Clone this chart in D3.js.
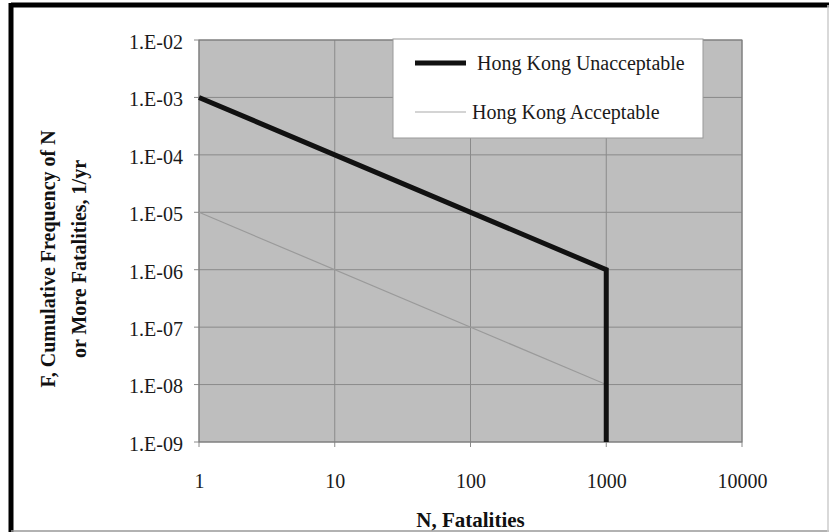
<!DOCTYPE html>
<html>
<head>
<meta charset="utf-8">
<script src="https://cdn.jsdelivr.net/npm/d3@7"></script>
<style>
  body { margin: 0; background: #fff; }
  svg { display: block; font-family: "Liberation Serif", "Times New Roman", serif; }
</style>
</head>
<body>
<svg width="829" height="532"></svg>
<script>
const svg = d3.select("svg");

// datos
const xTicks = [1, 10, 100, 1000, 10000];
const xTickLabels = ["1", "10", "100", "1000", "10000"];
const yTicks = [1e-9, 1e-8, 1e-7, 1e-6, 1e-5, 1e-4, 1e-3, 1e-2];
const yTickLabels = ["1.E-09", "1.E-08", "1.E-07", "1.E-06", "1.E-05", "1.E-04", "1.E-03", "1.E-02"];

const unacceptN = [1, 1000, 1000];
const unacceptF = [1e-3, 1e-6, 1e-9];
const acceptN = [1, 1000, 1000];
const acceptF = [1e-5, 1e-8, 1e-9];

const seriesNames = ["Hong Kong Unacceptable", "Hong Kong Acceptable"];

// area de la grafica
const plotLeft = 199, plotRight = 742, plotTop = 40, plotBottom = 442;

const xScale = d3.scaleLog().domain([1, 10000]).range([plotLeft, plotRight]);
const yScale = d3.scaleLog().domain([1e-9, 1e-2]).range([plotBottom, plotTop]);

// marco exterior
svg.append("line").attr("x1", 11).attr("y1", 5).attr("x2", 829).attr("y2", 5)
    .attr("stroke", "#000").attr("stroke-width", 5);
svg.append("line").attr("x1", 11).attr("y1", 3).attr("x2", 11).attr("y2", 532)
    .attr("stroke", "#000").attr("stroke-width", 5);
svg.append("line").attr("x1", 11).attr("y1", 531).attr("x2", 829).attr("y2", 531)
    .attr("stroke", "#999").attr("stroke-width", 1.5);
svg.append("line").attr("x1", 828).attr("y1", 5).attr("x2", 828).attr("y2", 532)
    .attr("stroke", "#ccc").attr("stroke-width", 1.5);

// fondo gris
svg.append("rect")
    .attr("x", plotLeft).attr("y", plotTop)
    .attr("width", plotRight - plotLeft).attr("height", plotBottom - plotTop)
    .attr("fill", "#bebebe");

// lineas de cuadricula
svg.selectAll(".hgrid").data(yTicks).enter().append("line")
    .attr("x1", plotLeft - 5).attr("x2", plotRight)
    .attr("y1", d => yScale(d)).attr("y2", d => yScale(d))
    .attr("stroke", "#8a8a8a").attr("stroke-width", 1);

svg.selectAll(".vgrid").data(xTicks).enter().append("line")
    .attr("x1", d => xScale(d)).attr("x2", d => xScale(d))
    .attr("y1", plotTop).attr("y2", plotBottom + 5)
    .attr("stroke", "#8a8a8a").attr("stroke-width", 1);

svg.append("rect")
    .attr("x", plotLeft).attr("y", plotTop)
    .attr("width", plotRight - plotLeft).attr("height", plotBottom - plotTop)
    .attr("fill", "none").attr("stroke", "#7a7a7a").attr("stroke-width", 1);

// ejes
const yAxis = d3.axisLeft(yScale).tickValues(yTicks)
    .tickFormat((d, i) => yTickLabels[i]).tickSize(0).tickPadding(16);
const gy = svg.append("g").attr("transform", `translate(${plotLeft},0)`).call(yAxis);
gy.select(".domain").remove();
gy.selectAll("text").attr("font-size", "20px").attr("fill", "#1a1a1a")
    .attr("font-family", "'Liberation Serif', 'Times New Roman', serif")
    .attr("dy", "0.42em");

const xAxis = d3.axisBottom(xScale).tickValues(xTicks)
    .tickFormat((d, i) => xTickLabels[i]).tickSize(0).tickPadding(32);
const gx = svg.append("g").attr("transform", `translate(0,${plotBottom})`).call(xAxis);
gx.select(".domain").remove();
gx.selectAll("text").attr("font-size", "20px").attr("fill", "#1a1a1a")
    .attr("font-family", "'Liberation Serif', 'Times New Roman', serif");

// titulos de ejes
svg.append("text")
    .attr("x", (plotLeft + plotRight) / 2).attr("y", 527)
    .attr("text-anchor", "middle")
    .attr("font-size", "21px").attr("font-weight", "bold").attr("fill", "#111")
    .text("N, Fatalities");

const yTitle = svg.append("text")
    .attr("transform", "translate(0,259) rotate(-90)")
    .attr("text-anchor", "middle")
    .attr("font-size", "20px").attr("font-weight", "bold").attr("fill", "#111");
yTitle.append("tspan").attr("x", 0).attr("y", 55).text("F, Cumulative Frequency of N");
yTitle.append("tspan").attr("x", 0).attr("y", 86).text("or More Fatalities, 1/yr");

// series
const line = d3.line().x(d => xScale(d[0])).y(d => yScale(d[1]));

svg.append("path")
    .datum(acceptN.map((n, i) => [n, acceptF[i]]))
    .attr("d", line)
    .attr("fill", "none").attr("stroke", "#9a9a9a").attr("stroke-width", 1.2);

svg.append("path")
    .datum(unacceptN.map((n, i) => [n, unacceptF[i]]))
    .attr("d", line)
    .attr("fill", "none").attr("stroke", "#111").attr("stroke-width", 5)
    .attr("stroke-linejoin", "miter");

// leyenda
svg.append("rect")
    .attr("x", 393).attr("y", 39).attr("width", 310).attr("height", 99)
    .attr("fill", "#fff").attr("stroke", "#999").attr("stroke-width", 1);

const legendStyles = [
    { stroke: "#111", width: 5, y: 63 },
    { stroke: "#aaa", width: 1.2, y: 112 }
];
seriesNames.forEach((name, i) => {
    svg.append("line")
        .attr("x1", 415).attr("x2", 466)
        .attr("y1", legendStyles[i].y).attr("y2", legendStyles[i].y)
        .attr("stroke", legendStyles[i].stroke).attr("stroke-width", legendStyles[i].width);
    svg.append("text")
        .attr("x", i === 0 ? 477 : 472).attr("y", legendStyles[i].y + 7)
        .attr("font-size", "20px").attr("fill", "#1a1a1a")
        .text(name);
});
</script>
</body>
</html>
